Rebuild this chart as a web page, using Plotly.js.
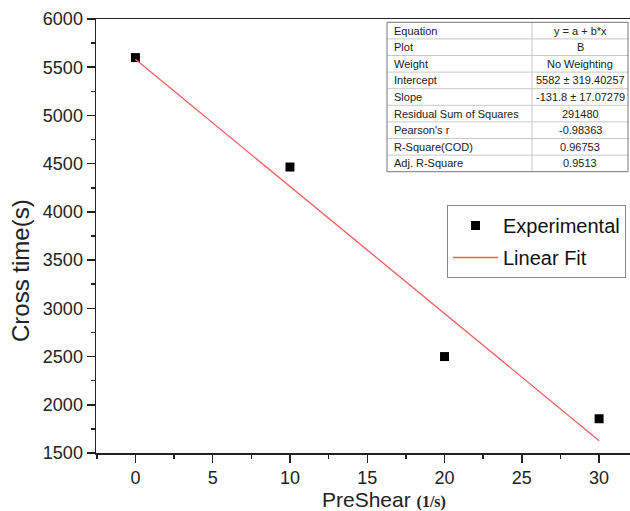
<!DOCTYPE html>
<html>
<head>
<meta charset="utf-8">
<script src="https://cdn.plot.ly/plotly-3.0.1.min.js"></script>
<style>html,body{margin:0;padding:0;background:#fff;}#chart{width:630px;height:511px;}</style>
</head>
<body>
<div id="chart"></div>
<script>
// ---- data ----
const preShear = [0, 10, 20, 30];
const crossTime = [5600, 4465, 2500, 1855];
const fitX = [0, 30];
const fitY = [5582, 1628];
const xTickVals = [0, 5, 10, 15, 20, 25, 30];
const yTickVals = [1500, 2000, 2500, 3000, 3500, 4000, 4500, 5000, 5500, 6000];
const statLabels = ["Equation", "Plot", "Weight", "Intercept", "Slope", "Residual Sum of Squares", "Pearson's r", "R-Square(COD)", "Adj. R-Square"];
const statValues = ["y = a + b*x", "B", "No Weighting", "5582 ± 319.40257", "-131.8 ± 17.07279", "291480", "-0.98363", "0.96753", "0.9513"];

// ---- layout helpers (pixel -> paper) ----
const L = 96, T = 19, PW = 534, PH = 434;
const px = x => (x - L) / PW;
const py = y => (T + PH - y) / PH;

const font = "Liberation Sans, Arial, sans-serif";
const axisColor = "#222";

const traces = [
  {
    x: preShear, y: crossTime, type: "scatter", mode: "markers", name: "Experimental",
    legendgroup: "a",
    marker: {symbol: "square", size: 9, color: "#000", line: {width: 0}}
  },
  {
    x: fitX, y: fitY, type: "scatter", mode: "lines", name: "Linear Fit",
    legendgroup: "b",
    line: {color: "#f25c5c", width: 1.3}
  }
];

// stats table
const shapes = [];
const annotations = [];
const tblL = 387, tblR = 628, tblT = 22.3, rowH = 16.6, colDiv = 532;
const tblB = tblT + rowH * statLabels.length;
for (let i = 1; i < statLabels.length; i++) {
  const yy = tblT + i * rowH;
  shapes.push({type: "line", xref: "paper", yref: "paper", x0: px(tblL), x1: px(tblR), y0: py(yy), y1: py(yy),
    line: {color: "#c8c8c8", width: 1}});
}
shapes.push({type: "line", xref: "paper", yref: "paper", x0: px(colDiv), x1: px(colDiv), y0: py(tblT), y1: py(tblB),
  line: {color: "#c8c8c8", width: 1}});
shapes.push({type: "rect", xref: "paper", yref: "paper", x0: px(tblL), x1: px(tblR), y0: py(tblB), y1: py(tblT),
  line: {color: "#777", width: 1}, fillcolor: "rgba(0,0,0,0)"});
statLabels.forEach((lab, i) => {
  const yc = tblT + (i + 0.5) * rowH;
  annotations.push({xref: "paper", yref: "paper", x: px(tblL + 5), y: py(yc), xanchor: "left", yanchor: "middle",
    text: lab, showarrow: false, font: {family: font, size: 11, color: "#222"}});
  annotations.push({xref: "paper", yref: "paper", x: px((colDiv + tblR) / 2), y: py(yc), xanchor: "center", yanchor: "middle",
    text: statValues[i], showarrow: false, font: {family: font, size: 11, color: "#222"}});
});

// axis titles
annotations.push({xref: "paper", yref: "paper", x: px(20), y: py(271), xanchor: "center", yanchor: "middle",
  text: "Cross time(s)", textangle: -90, showarrow: false, font: {family: font, size: 24, color: "#222"}});
annotations.push({xref: "paper", yref: "paper", x: px(384), y: py(499), xanchor: "center", yanchor: "middle",
  text: 'PreShear <span style="font-family:Liberation Serif;font-weight:bold;font-size:16px">(1/s)</span>',
  showarrow: false, font: {family: font, size: 21, color: "#222"}});

const layout = {
  width: 630, height: 511,
  margin: {l: L, r: 0, t: T, b: 511 - T - PH, pad: 0},
  paper_bgcolor: "#fff", plot_bgcolor: "#fff",
  showlegend: true,
  legend: {
    x: px(447), y: py(205), xanchor: "left", yanchor: "top",
    bordercolor: "#888", borderwidth: 1, bgcolor: "#fff",
    font: {family: font, size: 20, color: "#111"},
    itemwidth: 45, traceorder: "grouped", tracegroupgap: 3
  },
  xaxis: {
    range: [-2.55, 32.0], tickvals: xTickVals, ticks: "outside", ticklen: 8, tickwidth: 1.5, tickcolor: axisColor,
    showline: true, linecolor: axisColor, linewidth: 1.5, mirror: true, showgrid: false, zeroline: false,
    tickfont: {family: font, size: 18, color: "#222"},
    minor: {dtick: 2.5, tick0: 0, ticks: "outside", ticklen: 4, tickwidth: 1.5, tickcolor: axisColor, showgrid: false}
  },
  yaxis: {
    range: [1500, 6000], tickvals: yTickVals, ticks: "outside", ticklen: 8, tickwidth: 1.5, tickcolor: axisColor,
    showline: true, linecolor: axisColor, linewidth: 1.5, mirror: false, showgrid: false, zeroline: false,
    tickfont: {family: font, size: 18, color: "#222"},
    minor: {dtick: 250, tick0: 0, ticks: "outside", ticklen: 4, tickwidth: 1.5, tickcolor: axisColor, showgrid: false}
  },
  shapes: shapes,
  annotations: annotations
};

Plotly.newPlot("chart", traces, layout, {displayModeBar: false, staticPlot: true});
</script>
</body>
</html>
